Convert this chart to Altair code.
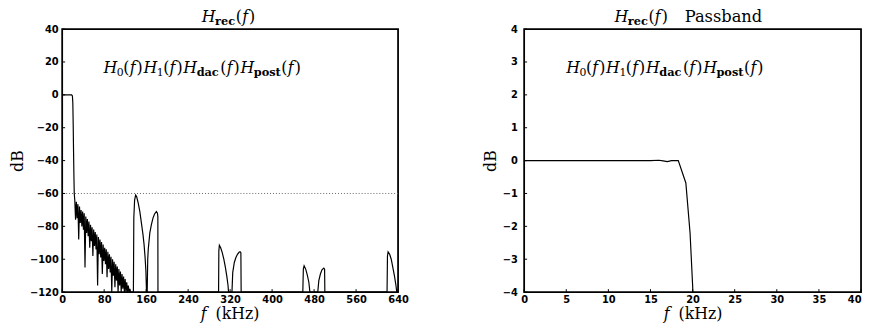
import altair as alt
import pandas as pd

# ---------------- data ----------------
# left panel: full reconstruction response H_rec(f), f in kHz, level in dB
pass_f = [0, 18, 19.5, 20.3, 21.0, 21.7, 22.4, 23.0]
pass_db = [0, 0, -0.7, -5, -18, -35, -50, -60]

ripple_f = [24.0, 25.5, 27.0, 28.5, 30.0, 31.5, 33.0, 34.5, 36.0, 37.5,
            39.0, 40.5, 42.0, 43.5, 45.0, 46.5, 48.0, 49.5, 51.0, 52.5,
            54.0, 55.5, 57.0, 58.5, 60.0, 61.5, 63.0, 64.5, 66.0, 67.5,
            69.0, 70.5, 72.0, 73.5, 75.0, 76.5, 78.0, 79.5, 81.0, 82.5,
            84.0, 85.5, 87.0, 88.5, 90.0, 91.5, 93.0, 94.5, 96.0, 97.5,
            99.0, 100.5, 102.0, 103.5, 105.0, 106.5, 108.0, 109.5, 111.0, 112.5,
            114.0, 115.5, 117.0, 118.5, 120.0, 121.5, 123.0, 124.5, 126.0, 127.5,
            129.0, 130.5, 132.0]
ripple_db = [-64, -76, -65, -75, -66.5, -88, -68, -78, -70, -80,
             -71, -82, -72, -105, -74, -84, -75.5, -86, -77, -93,
             -79, -89, -80.5, -98, -82, -92, -83.5, -94, -85, -116,
             -86.5, -97, -88, -99, -89.5, -109, -91, -101, -93, -103,
             -94, -111, -95.5, -106, -97, -108, -98.5, -120, -100, -110,
             -101.5, -117, -103, -113, -104.5, -120, -106, -116, -107.5, -120,
             -109, -118, -110.5, -120, -112, -120, -114, -120, -116, -120,
             -118, -120, -120]

img1_f = [135.7, 136.5, 138, 140, 142, 145, 148, 151, 154, 156, 158, 159.5, 160.7]
img1_db = [-120, -75, -64, -61, -62, -66, -71, -78, -85, -91, -99, -107, -120]
img2_f = [162, 163, 164, 167, 170, 173, 176, 179.5, 181.5, 182.3, 182.5]
img2_db = [-120, -100, -94, -84, -79, -75, -72.5, -71, -72, -74, -120]
img3_f = [298, 298.5, 299.5, 302, 305, 308, 311, 314, 316, 317]
img3_db = [-120, -95, -91.5, -93, -96, -100, -105, -111, -116, -120]
img4_f = [323.5, 325, 328, 331, 334, 337, 339, 340.5, 341]
img4_db = [-120, -108, -102, -99, -97, -95.8, -95.4, -96, -120]
img5_f = [458.5, 459.5, 461, 464, 467, 470, 472]
img5_db = [-120, -106, -104, -106, -109.5, -114, -120]
img6_f = [487, 489, 492, 495, 498.5, 500, 500.5]
img6_db = [-120, -113, -109, -106.5, -105.4, -106, -120]
img7_f = [619, 619.8, 621, 624, 627, 630, 633, 636, 637.5, 640]
img7_db = [-120, -98, -95.5, -97, -100, -105, -110, -116, -120, -120]

# right panel: passband detail
pb_f = [0, 5, 10, 15, 16, 16.5, 17, 17.5, 18.3, 19.2, 19.7, 20.1]
pb_db = [0, 0, 0, 0, 0.01, -0.01, -0.03, 0, 0, -0.68, -2.2, -4.3]

left_xticks = [0, 80, 160, 240, 320, 400, 480, 560, 640]
left_yticks = [-120, -100, -80, -60, -40, -20, 0, 20, 40]
right_xticks = [0, 5, 10, 15, 20, 25, 30, 35, 40]
right_yticks = [-4, -3, -2, -1, 0, 1, 2, 3, 4]
limit_db = [-60]

# ---------------- tables ----------------
left_f = pass_f + ripple_f + img1_f + img2_f + img3_f + img4_f + img5_f + img6_f + img7_f
left_db = pass_db + ripple_db + img1_db + img2_db + img3_db + img4_db + img5_db + img6_db + img7_db
left_df = pd.DataFrame({"f": left_f, "db": left_db, "i": list(range(len(left_f)))})
right_df = pd.DataFrame({"f": pb_f, "db": pb_db, "i": list(range(len(pb_f)))})

W_L, W_R, H = 341, 342, 267
SERIF = "DejaVu Serif"
ONE = pd.DataFrame({"k": [0]})
TITLE_Y = -7


def txt(s, x, y, size=16, style="normal", weight="normal"):
    return alt.Chart(ONE).mark_text(
        text=s, align="left", baseline="alphabetic", font=SERIF,
        fontSize=size, fontStyle=style, fontWeight=weight, color="black"
    ).encode(x=alt.value(x), y=alt.value(y))


def hterm(x, y, sub, subw):
    layers = [txt("H", x, y, style="italic")]
    if sub.isdigit():
        layers.append(txt(sub, x + 13.5, y + 3, size=11))
    else:
        layers.append(txt(sub, x + 13.5, y + 3, size=11.5, weight="bold"))
    p = x + 13.5 + subw
    layers += [txt("(", p, y), txt("f", p + 6.5, y, style="italic"), txt(")", p + 13.5, y)]
    return layers, p + 20.5


def product_label(x, y):
    layers = []
    for sub, w in [("0", 6.5), ("1", 6.5), ("dac", 24), ("post", 28)]:
        lay, x = hterm(x, y, sub, w)
        layers += lay
    return layers


def xtitle(x, y):
    return [txt("f", x, y, style="italic"), txt("(kHz)", x + 15, y)]


def panel(df, xdom, xticks, ydom, yticks, w, ylabpad, ytitlepad, label_align, texts, dotted):
    xs = alt.Scale(domain=xdom, nice=False, zero=False)
    ys = alt.Scale(domain=ydom, nice=False, zero=False)
    xaxis = alt.Axis(values=xticks, format="d", title=None, labelPadding=3, labelAlign=label_align)
    yaxis = alt.Axis(values=yticks, format="d", title="dB", labelPadding=ylabpad, titlePadding=ytitlepad)
    layers = [
        alt.Chart(df).mark_line(color="black", strokeWidth=1.2, clip=True).encode(
            x=alt.X("f:Q", scale=xs, axis=xaxis),
            y=alt.Y("db:Q", scale=ys, axis=yaxis),
            order="i:Q",
        )
    ]
    if dotted:
        layers.append(
            alt.Chart(pd.DataFrame({"db": limit_db})).mark_rule(
                color="#666", strokeDash=[1, 2], strokeWidth=1
            ).encode(y=alt.Y("db:Q", scale=ys, axis=yaxis))
        )
    layers.append(
        alt.Chart(pd.DataFrame({"f": xticks})).mark_rule(color="black", strokeWidth=1).encode(
            x=alt.X("f:Q", scale=xs, axis=xaxis), y=alt.value(H), y2=alt.value(H - 3)
        )
    )
    layers.append(
        alt.Chart(pd.DataFrame({"db": yticks})).mark_rule(color="black", strokeWidth=1).encode(
            y=alt.Y("db:Q", scale=ys, axis=yaxis), x=alt.value(0), x2=alt.value(3)
        )
    )
    layers += texts
    return alt.layer(*layers).properties(width=w, height=H)


# left panel texts
lt, _ = hterm(141.7, TITLE_Y, "rec", 21)
left_texts = lt + product_label(42, 44.7) + xtitle(140.7, H + 27.5)
# right panel texts
rt, _ = hterm(91.7, TITLE_Y, "rec", 21)
rt.append(txt("Passband", 163, TITLE_Y, size=16.5))
right_texts = rt + product_label(42.7, 44.7) + xtitle(141.7, H + 27.5)

left = panel(left_df, [0, 640], left_xticks, [-120, 40], left_yticks, W_L, 4, 4,
             "center", left_texts, True)
right = panel(right_df, [0, 40], right_xticks, [-4, 4], right_yticks, W_R, 7, 4,
              {"condition": {"test": "datum.value >= 40", "value": "right"}, "value": "center"},
              right_texts, False)

chart = alt.hconcat(left, right, spacing=72).properties(
    padding={"left": 0, "top": -2, "right": 0, "bottom": 0}
).configure_view(
    stroke="black", strokeWidth=1.8
).configure_axis(
    grid=False, domain=False, ticks=False,
    labelColor="black", labelFont="DejaVu Sans", labelFontWeight="bold", labelFontSize=10,
    titleFont=SERIF, titleFontSize=16, titleFontWeight="normal", titleColor="black",
)

chart.save("out.html", embed_options={"renderer": "svg", "actions": False})
